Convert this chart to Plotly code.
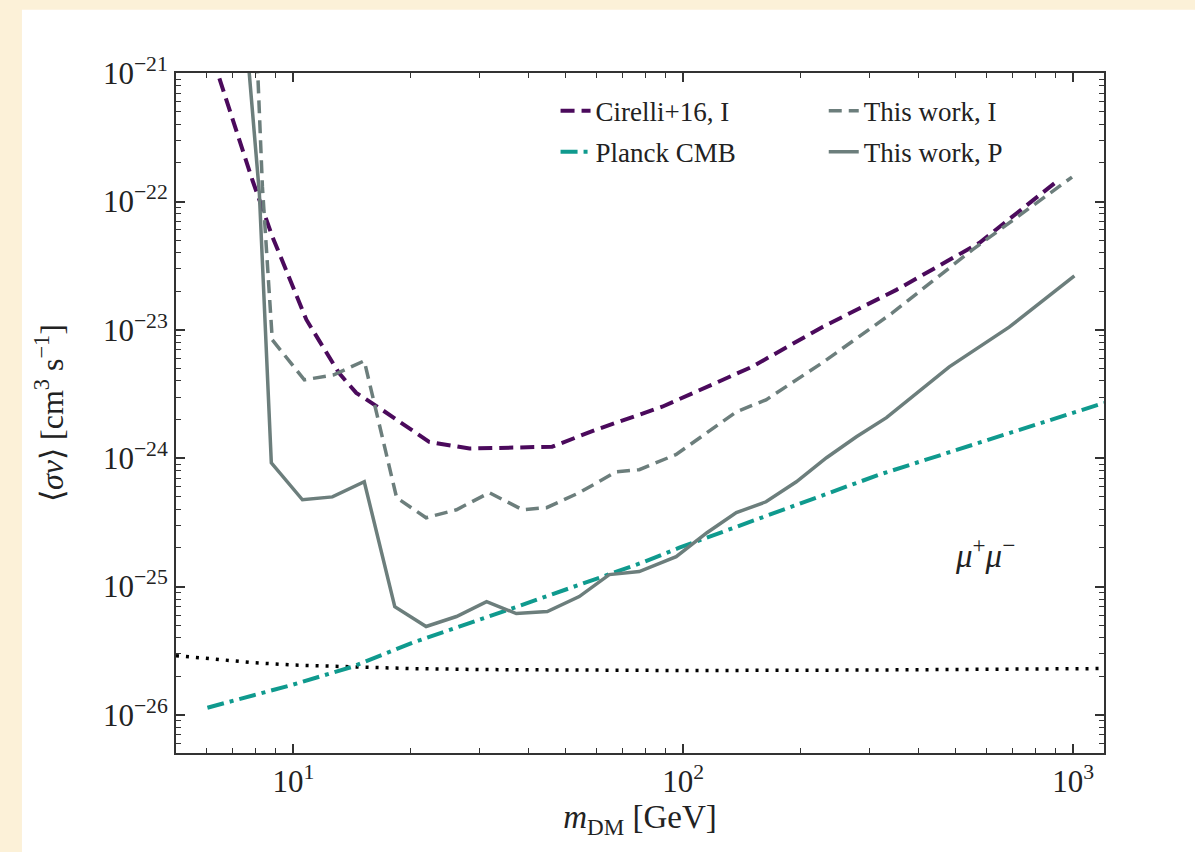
import plotly.graph_objects as go

# ---- data ----
cirelli_m = [6.46, 7.85, 8.84, 9.94, 10.8, 11.9, 13.1, 14.5, 16.9, 22.3, 28.3, 46.1, 59.8, 88.3, 150, 227, 352, 574, 904]
cirelli_sv = [9.1e-22, 1.47e-22, 5.3e-23, 2.16e-23, 1.20e-23, 7.4e-24, 4.6e-24, 3.23e-24, 2.38e-24, 1.34e-24,
              1.19e-24, 1.23e-24, 1.67e-24, 2.52e-24, 5.15e-24, 1.05e-23, 2.05e-23, 4.75e-23, 1.42e-22]

planck_m = [6.02, 9.95, 14.2, 20.2, 35.6, 78.5, 97.7, 318, 1200]
planck_sv = [1.14e-26, 1.72e-26, 2.38e-26, 3.66e-26, 6.6e-26, 1.54e-25, 2.01e-25, 7.45e-25, 2.7e-24]

work_i_m = [8.04, 8.33, 8.83, 10.67, 12.7, 15.2, 18.4, 21.9, 26.2, 31.8, 38.7, 44.6, 54.1, 67.3,
            77.1, 95.9, 136.8, 163, 227, 343, 551, 993]
work_i_sv = [1.8e-21, 1.30e-22, 8.36e-24, 4.08e-24, 4.47e-24, 5.74e-24, 4.93e-25, 3.44e-25, 3.97e-25,
             5.39e-25, 3.97e-25, 4.12e-25, 5.39e-25, 7.85e-25, 8.15e-25, 1.07e-24, 2.30e-24, 2.85e-24,
             5.53e-24, 1.35e-23, 4.20e-23, 1.55e-22]

work_p_m = [7.62, 8.18, 8.78, 10.55, 12.59, 15.2, 18.2, 21.9, 26.2, 31.3, 37.3, 44.8, 54.1, 64.6,
            77.1, 95.9, 115, 136.8, 163, 195, 233, 278, 332, 481, 685, 1007]
work_p_sv = [1.5e-21, 1.16e-22, 9.2e-25, 4.75e-25, 5.0e-25, 6.56e-25, 6.98e-26, 4.89e-26, 5.85e-26,
             7.64e-26, 6.17e-26, 6.39e-26, 8.36e-26, 1.24e-25, 1.31e-25, 1.71e-25, 2.63e-25, 3.77e-25,
             4.58e-25, 6.56e-25, 1.01e-24, 1.47e-24, 2.07e-24, 5.15e-24, 1.05e-23, 2.63e-23]

relic_m = [5.0, 6.0, 8.0, 10.0, 15.0, 20.0, 30.0, 100.0, 300.0, 1000.0, 1200.0]
relic_sv = [2.9e-26, 2.75e-26, 2.55e-26, 2.45e-26, 2.35e-26, 2.3e-26, 2.26e-26, 2.22e-26, 2.24e-26, 2.3e-26, 2.3e-26]

x_decades = [1, 2, 3]
x_ticktext = ["10<sup>1</sup>", "10<sup>2</sup>", "10<sup>3</sup>"]
y_decades = [-26, -25, -24, -23, -22, -21]
y_ticktext = ["10<sup>\u221226</sup>", "10<sup>\u221225</sup>", "10<sup>\u221224</sup>",
              "10<sup>\u221223</sup>", "10<sup>\u221222</sup>", "10<sup>\u221221</sup>"]

PURPLE = "#4b0a5c"
GREY = "#6c7e7c"
TEAL = "#0f9a8e"
FONT = "Liberation Serif"
TXT = "#222222"

fig = go.Figure()
fig.add_trace(go.Scatter(x=relic_m, y=relic_sv, mode="lines", showlegend=False,
                         line=dict(color="black", width=3.5, dash="3px,7px")))
fig.add_trace(go.Scatter(x=planck_m, y=planck_sv, mode="lines", name="Planck CMB",
                         legend="legend", legendgroup="b", legendrank=2,
                         line=dict(color=TEAL, width=4, dash="17px,6px,4px,6px")))
fig.add_trace(go.Scatter(x=cirelli_m, y=cirelli_sv, mode="lines", name="Cirelli+16, I",
                         legend="legend", legendgroup="a", legendrank=1,
                         line=dict(color=PURPLE, width=4, dash="14px,7px")))
fig.add_trace(go.Scatter(x=work_i_m, y=work_i_sv, mode="lines", name="This work, I",
                         legend="legend2", legendgroup="c", legendrank=1,
                         line=dict(color=GREY, width=3.5, dash="13px,7px")))
fig.add_trace(go.Scatter(x=work_p_m, y=work_p_sv, mode="lines", name="This work, P",
                         legend="legend2", legendgroup="d", legendrank=2,
                         line=dict(color=GREY, width=3.5)))

x_minor = [k * 10 ** d for d in [0, 1, 2, 3] for k in range(2, 10)]
y_minor = [k * 10.0 ** d for d in range(-27, -20) for k in range(2, 10)]

axis_common = dict(showline=True, linecolor="#333333", linewidth=2, mirror="ticks",
                   ticks="inside", ticklen=9, tickwidth=1.5, tickcolor="#333333",
                   showgrid=False, zeroline=False,
                   tickfont=dict(family=FONT, size=31, color=TXT))

fig.update_xaxes(type="log", range=[0.699, 3.079], tickmode="array",
                 tickvals=[10 ** d for d in x_decades], ticktext=x_ticktext,
                 minor=dict(tickmode="array", tickvals=x_minor, ticks="inside", ticklen=5,
                            tickwidth=1.2, tickcolor="#333333"),
                 title=dict(text="<i>m</i><sub>DM</sub> [GeV]", font=dict(family=FONT, size=33, color=TXT),
                            standoff=6),
                 **axis_common)
fig.update_yaxes(type="log", range=[-26.296, -20.999], tickmode="array",
                 tickvals=[10.0 ** d for d in y_decades], ticktext=y_ticktext,
                 minor=dict(tickmode="array", tickvals=y_minor, ticks="inside", ticklen=5,
                            tickwidth=1.2, tickcolor="#333333"),
                 title=dict(text="\u27e8<i>\u03c3v</i>\u27e9 [cm<sup>3</sup> s<sup>\u22121</sup>]",
                            font=dict(family=FONT, size=32, color=TXT), standoff=30),
                 **axis_common)

legend_common = dict(bgcolor="rgba(0,0,0,0)", borderwidth=0, yanchor="top", xanchor="left",
                     font=dict(family=FONT, size=27, color=TXT), tracegroupgap=3)
fig.update_layout(
    width=1195, height=852,
    margin=dict(l=176, r=91, t=73, b=99, autoexpand=False),
    paper_bgcolor="#fcf1d8",
    plot_bgcolor="white",
    legend=dict(x=0.409, y=0.98, **legend_common),
    legend2=dict(x=0.698, y=0.98, **legend_common),
    shapes=[dict(type="rect", xref="paper", yref="paper", x0=-0.166, x1=1.1, y0=-0.2, y1=1.093,
                 fillcolor="white", line=dict(width=0), layer="below")],
    annotations=[dict(x=0.872, y=0.294, xref="paper", yref="paper", showarrow=False,
                      xanchor="center", yanchor="middle",
                      text="<i>\u03bc</i><sup>+</sup><i>\u03bc</i><sup>\u2212</sup>",
                      font=dict(family=FONT, size=33, color=TXT))],
)

fig.write_html("out.html")
